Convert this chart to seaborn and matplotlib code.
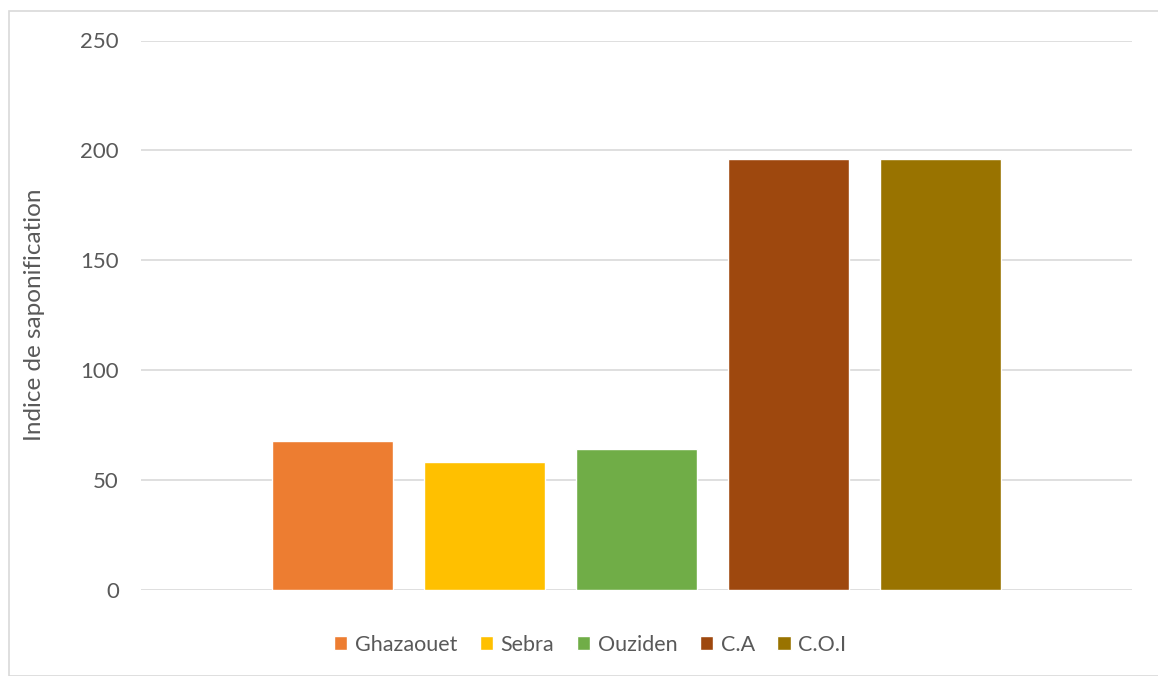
import matplotlib
matplotlib.use("Agg")
import matplotlib.pyplot as plt
import matplotlib.patches as mpatches
import seaborn as sns
import pandas as pd

# Saponification index per oil sample
series = ["Ghazaouet", "Sebra", "Ouziden", "C.A", "C.O.I"]
values = [67.6, 58.1, 64.0, 196.0, 196.0]
colors = ["#ED7D31", "#FFC000", "#70AD47", "#9E480E", "#997300"]
y_ticks = [0, 50, 100, 150, 200, 250]
y_label = "Indice de saponification"

df = pd.DataFrame({"groupe": [""] * len(series), "echantillon": series, "indice": values})

sns.set_theme(style="white")
plt.rcParams["font.family"] = ["Lato", "DejaVu Sans"]

fig = plt.figure(figsize=(11.58, 6.76), dpi=100)
ax = fig.add_axes([141 / 1158, 1 - 589.5 / 676, (1132 - 141) / 1158, (589.5 - 40.5) / 676])

sns.barplot(data=df, x="groupe", y="indice", hue="echantillon", hue_order=series,
            palette=colors, width=0.767, gap=0.21, saturation=1, ax=ax, legend=True,
            errorbar=None)

ax.set_xlim(-0.5, 0.5)
ax.set_ylim(0, 250)
ax.set_yticks(y_ticks)
ax.set_yticklabels([str(t) for t in y_ticks], color="#595959", fontsize=16)
ax.set_xticks([])
ax.set_xlabel("")
ax.set_ylabel(y_label, color="#595959", fontsize=17.5, labelpad=25)
ax.tick_params(axis="y", length=0, pad=16)
ax.grid(axis="y", color="#D9D9D9", linewidth=1.2)
ax.set_axisbelow(True)
for s in ax.spines.values():
    s.set_visible(False)

handles, labels = ax.get_legend_handles_labels()
ax.get_legend().remove()
fig.legend(handles, labels, loc="center", bbox_to_anchor=(590 / 1158, 1 - 645 / 676),
           ncol=5, frameon=False, fontsize=15.5, labelcolor="#595959",
           handlelength=0.62, handleheight=0.62, handletextpad=0.35, columnspacing=1.05)

# chart-area frame
fig.patches.append(mpatches.Rectangle((9 / 1158, 0), 1.2, 1 - 11 / 676, transform=fig.transFigure,
                                      fill=False, edgecolor="#D9D9D9", linewidth=1.2))

fig.savefig("out.png", dpi=100)
